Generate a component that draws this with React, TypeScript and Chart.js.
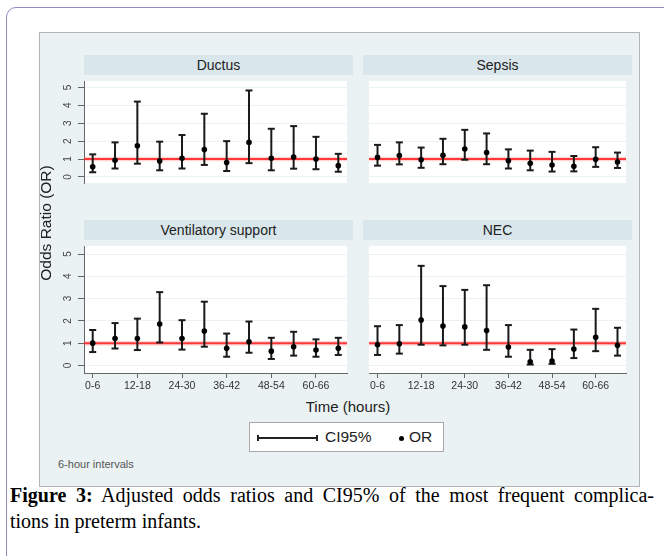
import React, { useEffect, useRef } from "react";
import { Chart, registerables } from "chart.js";
Chart.register(...registerables);

const intervals = ["0-6", "6-12", "12-18", "18-24", "24-30", "30-36", "36-42", "42-48", "48-54", "54-60", "60-66", "66-72"];
const xTickIdx = [0, 2, 4, 6, 8, 10];
const yTicks = [0, 1, 2, 3, 4, 5];
const refOR = 1;

const ductusOR = [0.57, 0.93, 1.74, 0.89, 1.04, 1.53, 0.8, 1.93, 1.04, 1.11, 1.0, 0.63];
const ductusLo = [0.26, 0.47, 0.74, 0.37, 0.47, 0.67, 0.33, 0.77, 0.37, 0.46, 0.43, 0.29];
const ductusHi = [1.26, 1.93, 4.21, 1.97, 2.34, 3.53, 2.0, 4.83, 2.69, 2.84, 2.24, 1.29];

const sepsisOR = [1.09, 1.19, 0.96, 1.21, 1.56, 1.36, 0.9, 0.76, 0.67, 0.6, 0.99, 0.83];
const sepsisLo = [0.63, 0.7, 0.51, 0.71, 0.96, 0.71, 0.47, 0.37, 0.3, 0.31, 0.56, 0.5];
const sepsisHi = [1.79, 1.93, 1.64, 2.13, 2.63, 2.43, 1.54, 1.47, 1.4, 1.17, 1.66, 1.36];

const ventOR = [1.0, 1.21, 1.21, 1.86, 1.21, 1.54, 0.77, 1.06, 0.64, 0.84, 0.69, 0.77];
const ventLo = [0.6, 0.76, 0.69, 1.03, 0.71, 0.84, 0.39, 0.57, 0.29, 0.44, 0.39, 0.47];
const ventHi = [1.59, 1.9, 2.1, 3.29, 2.03, 2.86, 1.43, 1.97, 1.24, 1.51, 1.17, 1.24];

const necOR = [0.93, 0.97, 2.04, 1.77, 1.73, 1.57, 0.83, 0.16, 0.2, 0.74, 1.26, 0.9];
const necLo = [0.47, 0.53, 0.93, 0.9, 0.93, 0.7, 0.39, 0.04, 0.07, 0.33, 0.64, 0.44];
const necHi = [1.76, 1.81, 4.47, 3.56, 3.39, 3.6, 1.81, 0.7, 0.73, 1.61, 2.54, 1.69];

const SANS = '"Liberation Sans", Arial, Helvetica, sans-serif';
const SERIF = '"Liberation Serif", "Times New Roman", serif';
const REGION = "#eaf2f3";
const STRIP = "#d9e6eb";
const AXIS = "#666";
const X_MIN = -0.39;
const X_MAX = 11.39;

type PanelProps = {
  title: string;
  or: number[];
  lo: number[];
  hi: number[];
  showY: boolean;
  showX: boolean;
  left: number;
  top: number;
  width: number;
  height: number;
};

function Panel(p: PanelProps) {
  const ref = useRef<HTMLCanvasElement | null>(null);
  useEffect(() => {
    const canvas = ref.current;
    if (!canvas) return;
    const seg: any[] = [];
    intervals.forEach((_, i) => {
      seg.push({ x: i, y: p.lo[i] }, { x: i, y: p.hi[i] }, { x: i + 0.5, y: null });
    });
    const caps: any[] = [];
    intervals.forEach((_, i) => {
      caps.push({ x: i, y: p.lo[i] }, { x: i, y: p.hi[i] });
    });
    const pts = intervals.map((_, i) => ({ x: i, y: p.or[i] }));
    const refLine = [
      { x: X_MIN, y: refOR },
      { x: X_MAX, y: refOR },
    ];
    const bgPlugin = {
      id: "plotbg",
      beforeDraw(chart: any) {
        const { ctx, chartArea } = chart;
        ctx.save();
        ctx.fillStyle = "#ffffff";
        ctx.fillRect(chartArea.left, chartArea.top, chartArea.right - chartArea.left, chartArea.bottom - chartArea.top);
        ctx.restore();
      },
    };
    const yLabelPlugin = {
      id: "ylabels",
      afterDraw(chart: any) {
        if (!p.showY) return;
        const { ctx, chartArea } = chart;
        const ys = chart.scales.y;
        ctx.save();
        ctx.fillStyle = "#444";
        ctx.font = `10px ${SANS}`;
        ctx.textAlign = "center";
        ctx.textBaseline = "middle";
        yTicks.forEach((v) => {
          const y = ys.getPixelForValue(v);
          ctx.save();
          ctx.translate(chartArea.left - 16, y);
          ctx.rotate(-Math.PI / 2);
          ctx.fillText(String(v), 0, 0);
          ctx.restore();
        });
        ctx.restore();
      },
    };
    const chart = new Chart(canvas, {
      type: "line",
      data: {
        datasets: [
          {
            data: pts,
            showLine: false,
            pointStyle: "circle",
            pointRadius: 2.8,
            pointBackgroundColor: "#000",
            pointBorderWidth: 0,
            order: 1,
          } as any,
          {
            data: caps,
            showLine: false,
            pointStyle: "line",
            pointRadius: 3.5,
            pointBorderColor: "#1a1a1a",
            pointBorderWidth: 2,
            order: 2,
          } as any,
          {
            data: seg,
            borderColor: "#1a1a1a",
            borderWidth: 2,
            pointRadius: 0,
            spanGaps: false,
            order: 3,
          } as any,
          {
            data: refLine,
            borderColor: "rgba(255,30,30,0.85)",
            borderWidth: 2,
            pointRadius: 0,
            order: 5,
          } as any,
          {
            data: refLine,
            borderColor: "rgba(255,60,60,0.22)",
            borderWidth: 4.5,
            pointRadius: 0,
            order: 6,
          } as any,
        ],
      },
      options: {
        animation: false,
        responsive: false,
        maintainAspectRatio: false,
        events: [],
        layout: { padding: 0 },
        plugins: { legend: { display: false }, tooltip: { enabled: false }, title: { display: false } },
        scales: {
          x: {
            type: "linear",
            min: X_MIN,
            max: X_MAX,
            display: p.showX,
            afterBuildTicks: (s: any) => {
              s.ticks = xTickIdx.map((v) => ({ value: v }));
            },
            afterFit: (s: any) => {
              s.height = 25;
            },
            grid: { drawOnChartArea: false, drawTicks: true, tickLength: 5, tickColor: AXIS, color: AXIS },
            border: { display: true, color: AXIS, width: 1 },
            ticks: {
              autoSkip: false,
              maxRotation: 0,
              minRotation: 0,
              padding: 2,
              color: "#333",
              font: { family: SANS, size: 10.5 },
              callback: (v: any) => intervals[Number(v)] ?? "",
            },
          },
          y: {
            type: "linear",
            min: -0.34,
            max: 5.36,
            afterBuildTicks: (s: any) => {
              s.ticks = yTicks.map((v) => ({ value: v }));
            },
            afterFit: (s: any) => {
              s.width = p.showY ? 29 : 0;
            },
            grid: { color: REGION, lineWidth: 1, drawTicks: p.showY, tickLength: 6, tickColor: AXIS },
            border: { display: p.showY, color: AXIS, width: 1 },
            ticks: { display: false },
          },
        },
      } as any,
      plugins: [bgPlugin, yLabelPlugin],
    });
    return () => chart.destroy();
  }, []);
  return (
    <canvas
      ref={ref}
      width={p.width}
      height={p.height}
      style={{ position: "absolute", left: p.left, top: p.top, width: p.width, height: p.height }}
    />
  );
}

function Strip({ text, left, top }: { text: string; left: number; top: number }) {
  return (
    <div
      style={{
        position: "absolute",
        left,
        top,
        width: 269,
        height: 20,
        background: STRIP,
        color: "#222",
        font: `14px ${SANS}`,
        lineHeight: "20px",
        textAlign: "center",
      }}
    >
      {text}
    </div>
  );
}

export default function App() {
  return (
    <div
      style={{
        position: "fixed",
        left: 0,
        top: 0,
        width: 664,
        height: 556,
        overflow: "hidden",
        background: "#fff",
      }}
    >
      <div
        style={{
          position: "absolute",
          left: 6,
          top: 7,
          width: 720,
          height: 620,
          border: "1.5px solid #8f89bd",
          borderRadius: 10,
          boxSizing: "border-box",
        }}
      />
      <div
        style={{
          position: "absolute",
          left: 39,
          top: 32,
          width: 601,
          height: 455,
          background: REGION,
          border: "1px solid #b4b4b4",
          boxSizing: "border-box",
        }}
      />
      <Strip text="Ductus" left={84} top={55} />
      <Strip text="Sepsis" left={363} top={55} />
      <Strip text="Ventilatory support" left={84} top={220} />
      <Strip text="NEC" left={363} top={220} />
      <Panel title="Ductus" or={ductusOR} lo={ductusLo} hi={ductusHi} showY={true} showX={false} left={55} top={75} width={298} height={133} />
      <Panel title="Sepsis" or={sepsisOR} lo={sepsisLo} hi={sepsisHi} showY={false} showX={false} left={363} top={75} width={269} height={133} />
      <Panel title="Ventilatory support" or={ventOR} lo={ventLo} hi={ventHi} showY={true} showX={true} left={55} top={240} width={298} height={158} />
      <Panel title="NEC" or={necOR} lo={necLo} hi={necHi} showY={false} showX={true} left={363} top={240} width={269} height={158} />
      <div
        style={{
          position: "absolute",
          left: 47 - 100,
          top: 223 - 10,
          width: 200,
          height: 20,
          lineHeight: "20px",
          textAlign: "center",
          transform: "rotate(-90deg)",
          font: `15.5px ${SANS}`,
          color: "#222",
          whiteSpace: "nowrap",
        }}
      >
        Odds Ratio (OR)
      </div>
      <div
        style={{
          position: "absolute",
          left: 348 - 100,
          top: 408 - 10,
          width: 200,
          height: 20,
          lineHeight: "20px",
          textAlign: "center",
          font: `15px ${SANS}`,
          color: "#222",
          whiteSpace: "nowrap",
        }}
      >
        Time (hours)
      </div>
      <div
        style={{
          position: "absolute",
          left: 249,
          top: 422,
          width: 195,
          height: 30,
          background: "#fff",
          border: "1px solid #a8a8a8",
          boxSizing: "border-box",
        }}
      >
        <div style={{ position: "absolute", left: 7, top: 14, width: 60, height: 1.5, background: "#222" }} />
        <div style={{ position: "absolute", left: 7, top: 12, width: 1.5, height: 6, background: "#222" }} />
        <div style={{ position: "absolute", left: 66, top: 12, width: 1.5, height: 6, background: "#222" }} />
        <div
          style={{
            position: "absolute",
            left: 75,
            top: 5,
            height: 20,
            lineHeight: "20px",
            font: `15.5px ${SANS}`,
            color: "#222",
            whiteSpace: "nowrap",
          }}
        >
          CI95%
        </div>
        <div style={{ position: "absolute", left: 148.5, top: 12.5, width: 5, height: 5, borderRadius: 3, background: "#000" }} />
        <div
          style={{
            position: "absolute",
            left: 159,
            top: 5,
            height: 20,
            lineHeight: "20px",
            font: `15.5px ${SANS}`,
            color: "#222",
            whiteSpace: "nowrap",
          }}
        >
          OR
        </div>
      </div>
      <div
        style={{
          position: "absolute",
          left: 58,
          top: 458,
          font: `11px ${SANS}`,
          color: "#555",
          whiteSpace: "nowrap",
        }}
      >
        6-hour intervals
      </div>
      <div
        style={{
          position: "absolute",
          left: 10,
          top: 484,
          width: 644,
          font: `20px ${SERIF}`,
          lineHeight: "22px",
          color: "#000",
          textAlign: "justify",
          textAlignLast: "justify" as any,
          whiteSpace: "nowrap",
        }}
      >
        <b>Figure 3:</b> Adjusted odds ratios and CI95% of the most frequent complica-
      </div>
      <div
        style={{
          position: "absolute",
          left: 10,
          top: 510,
          font: `20px ${SERIF}`,
          lineHeight: "22px",
          color: "#000",
          whiteSpace: "nowrap",
        }}
      >
        tions in preterm infants.
      </div>
    </div>
  );
}
